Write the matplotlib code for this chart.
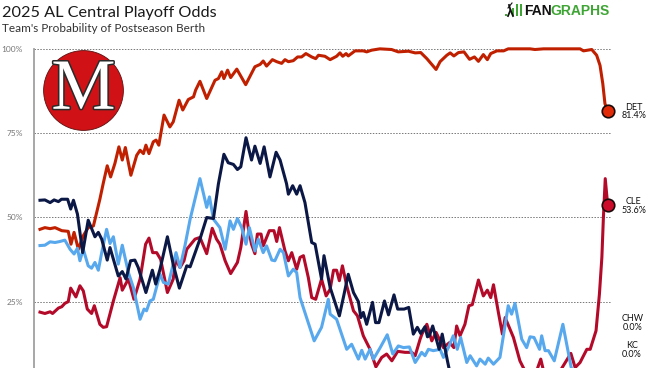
import matplotlib
matplotlib.use("Agg")
import matplotlib.pyplot as plt
import matplotlib.patheffects as pe
from matplotlib.lines import Line2D
from matplotlib.patches import Circle, Rectangle

plt.rcParams['font.family'] = ['Lato', 'DejaVu Sans']

#values, day = days since opening day
det_days = [0,1.6,3.3,4.9,7.1,9.2,10.1,11.1,12.5,14.1,15.7,17.4,19.5,20.6,21.9,23,24.4,25.7,26.8,27.8,29.6,31.5,32.6,33.7,34.5,35.5,36.9,37.8,38.7,40.4,42.3,43.4,45.3,46.5,48.3,50,50.7,52.1,54.3,57,58.1,59.2,59.9,61.1,62.1,64.1,67,70,71.7,72.7,73.8,75.7,77.1,78.7,79.8,80.9,82.5,83.9,85.2,86.6,88.5,89.8,90.7,92.8,94.5,96.6,97.7,98.6,99.7,100.4,102.6,105.3,106.4,108,110.7,114.5,116.7,120,122.2,124,126,129,130.3,132.5,133.6,134.8,136.3,138.1,139.9,141.5,142.8,144.4,145.7,146.8,148.8,151,152.5,159.6,161.2,164,175.9,177,179.7,181.3,182.4,183.3,184,184.9]
det_odds = [46.5,47,46.7,47,46.1,45.9,42.1,45.6,40.6,44.6,47,47.5,55.4,60.1,65.3,62,66,70.9,67,70.7,62.5,68.4,69.9,68.9,71.4,68.9,72.4,72.9,71.4,80.3,76.8,78.3,84.7,81.8,84.9,85.7,87.7,90.3,85.2,90.6,91.1,93.1,91.1,93.6,91.4,93.9,89.3,94.6,95.3,96.3,94.8,96.7,96.1,95.6,96.7,96.1,96.4,97.5,97.5,98.5,97.5,97,98,97.7,96.7,97.7,98.7,97.7,98.5,97.8,99.3,99.3,99,99.5,99.9,99.7,99,99.2,98.7,98.8,97,93.8,96.1,98,98.7,97.8,98.8,99,96.8,97.5,96.2,98.2,96.7,98.5,99.3,99.3,99.9,99.9,99.7,99.9,99.9,99.3,99.7,98,95,89.6,83.7,81.4]

cle_days = [0,1.6,3.3,4.1,6,7.1,8.1,9.2,10,11.7,13,14.1,15.4,16.8,17.7,19.5,20.6,21.7,23.9,26.1,26.8,28.8,30.6,32.6,34.4,35.5,36.7,38,39.3,41.5,43.4,44.2,45.6,46.9,47.8,50.5,52.1,54.3,56.1,57.5,58.6,60.3,62.1,64.3,65.4,67.1,67.9,68.9,70,70.8,72,72.7,74.7,76.2,77.1,78,79.8,80.9,82,83.6,84.7,85.8,87.4,88.5,89.8,91.7,93.2,94.5,95.6,96.6,97.5,98.5,99.9,102.1,103.4,105.3,107.5,109.4,111.3,112.9,114.6,116.5,118.9,121.1,122.2,123.8,124.4,126,127.6,129,131.4,133.4,134.8,135.7,136.8,138.4,139.7,140.8,142.8,144.4,145.7,146.8,147.7,149.3,150.6,151.5,154.2,156.3,158.5,161.2,163.1,164.5,167.2,169.4,172.9,174.3,175.9,178.1,179.2,181.1,182.2,183,183.5,184.1,184.9]
cle_odds = [22,21.6,22.1,21.6,23.2,23.6,24.6,25.1,29.1,26.5,29.8,28.3,22.9,21.6,23.9,18.4,17.5,17.7,25.3,32.2,28.5,31.8,25.8,31.8,42.1,43.9,39.6,39.6,37.6,27.8,31.8,37.7,35.2,37.2,40.6,43.6,44.1,39.3,46.8,43.6,42.1,37.2,33.4,36.7,41.1,51.8,46.5,42.1,39.3,45.1,45.1,41.6,46.1,46.1,42.9,47,40.1,37.2,39.6,34.7,38.2,38.7,32.2,26.3,25.8,31.8,26.8,28.8,34.4,34.4,31.3,35.7,29.8,22.4,20.9,15,11,5.8,8.6,9.6,7.6,10.4,10.1,10.1,9.1,14,15.5,18.4,13.5,16,11.5,13,11.5,17.9,15,18.4,23.9,24.2,31.5,26.8,28.5,26.3,30.1,21.9,15.5,20.4,14.5,7.6,3.6,3.2,8.1,2.7,1.7,4.6,9.8,5.6,7.1,11,11,16.5,27.3,38.2,50,61.5,53.6]

blue_days = [0,1.6,3.3,4.9,6.5,8.1,9.8,11.1,12.2,13,14.1,15.7,16.8,17.9,19,20.1,21.7,22.8,23.9,25.5,26.8,28.8,30.4,32.6,33.9,34.7,35.8,36.9,39.1,40.2,41.8,44.3,45.6,47.2,48.9,52.1,54.3,55.2,56.5,58.6,60.3,61.9,63,64.3,65.7,67.1,68.2,70,71.1,72.7,73.8,75.5,76.5,78.2,79.3,80.9,82.5,83.6,84.7,89.3,91.7,93.9,94.5,96.6,99.9,101.5,103.7,104.8,105.9,107.5,108.6,110.8,113.1,114.9,116.7,118.4,120.3,122.2,124.3,125.4,126.5,128.1,130.3,131.4,133,134.6,135.9,137,139,140.1,142.2,143.3,145,146,147.7,149.8,152.5,153.6,154.7,156.9,158.5,159.6,160.9,162.7,163.4,164.5,165.6,167.5,170.3,172.9,174.3,178,184.9]
blue_odds = [41.7,41.8,42.8,42.6,42.9,43.3,40.6,39.2,40.9,37.2,40.6,35.7,35,36.7,34.4,39.6,46.5,42.3,44.3,36.2,41.8,33.7,29.3,19.9,22.9,22.4,25.3,25.8,33.2,30.8,30.3,39.6,35.2,41.6,49.5,61.5,53,56.1,49.5,47,40.6,49,46.5,49.7,47,42.1,47,40.1,43.6,39.6,41.6,37.4,37.2,40.6,39.6,32.7,34.7,33.7,26.3,13.5,17.5,25.8,21.4,19.9,11,12.5,8.1,10.7,8.1,11,8.1,11.5,15.3,9.6,12,11.5,11.7,7.1,10.1,9.1,11,10.6,11,8.6,11.5,15,11,14.5,7.1,9.1,6.1,8.1,6.6,8.4,6.6,8.6,23.9,21.4,24.6,14,11.5,14.7,14.5,11,15,10.6,10.6,7.6,18.4,6.1,0.7,0,0]

navy_days = [0,1.6,3.3,4.6,6,7,9,10,10.9,12.2,13.9,15.7,17.9,19,20.1,21.9,22.8,25.5,26.8,28,29.5,30.9,32,34.5,36.6,37.7,39.1,41.5,43.4,45.4,47.8,48.9,52.1,54.3,56.5,58.1,59.9,61.3,63,64.3,65.4,67.1,68.9,70,71.7,73,74.9,76.9,78.2,80.3,80.9,82.3,83.6,84.7,86.3,88.5,89.6,91.7,92.5,94.5,97.5,98.8,100.4,102.1,103.7,104.5,105.3,106.4,108.3,109.3,110.4,112.2,113.5,115.3,116.5,118.6,120.1,121.6,122.9,124,125.4,126.2,126.8,127.9,130,131,132.7,133.4,136,184.9]
navy_odds = [55.1,55.2,54.4,55.2,54.7,55.4,55.4,52.5,55.1,51,39.6,49.2,44.3,45.6,43.6,37.4,41.1,32.7,34,31.8,37.2,37.4,35.2,27.8,34.4,30.3,34.7,44.3,36.1,29.1,35.7,35.4,43.6,50,49.7,59.9,68.7,66.2,65.7,64.2,65,73.6,67,71.1,66,70.9,62,69.3,67,60,56.9,59.4,56.9,59.4,54.4,42.6,42.1,31.8,38.7,29.3,20.9,26.3,33.2,27.8,25.1,20.4,21.9,18.4,24.9,18.9,18.9,25.3,21.2,27.1,22.9,22.9,23.4,15.5,17.5,15.7,17.7,14.7,15,17.9,11,15.5,7.6,4.6,1,0]

y_ticks = [25, 50, 75, 100]
y_labels = ["25%", "50%", "75%", "100%"]

DET_COLOR = "#c02000"
CLE_COLOR = "#b30a2a"
BLUE_COLOR = "#58a8ee"
NAVY_COLOR = "#0b1846"

W, H = 656, 368

def fx(px):
    return px / W

def fy(py):
    return 1 - py / H

fig = plt.figure(figsize=(W / 100, H / 100), dpi=100)
ax = fig.add_axes([fx(34), fy(368), (612 - 34) / W, (368 - 48.5) / H])
ax.set_xlim(-1.95, 186.3)
ax.set_ylim(5.47, 100)

for spine in ["top", "right", "bottom"]:
    ax.spines[spine].set_visible(False)
ax.spines["left"].set_color("#a0a0a0")
ax.spines["left"].set_linewidth(1.3)

ax.set_xticks([])
ax.set_yticks(y_ticks)
ax.set_yticklabels(y_labels, fontsize=6, color="#777777")
ax.tick_params(axis="y", length=0, pad=8)
ax.grid(axis="y", color="#777777", linestyle=(0, (1.5, 1.5)), linewidth=0.7)
ax.set_axisbelow(True)

ax.plot(det_days, det_odds, color=DET_COLOR, linewidth=2.2, clip_on=False)
ax.plot(cle_days, cle_odds, color=CLE_COLOR, linewidth=2.2, clip_on=False)
ax.plot(blue_days, blue_odds, color=BLUE_COLOR, linewidth=2.2, clip_on=False)
ax.plot(navy_days, navy_odds, color=NAVY_COLOR, linewidth=2.2, clip_on=False)

#end points
ax.plot(det_days[-1], det_odds[-1], "o", markersize=9, markerfacecolor="#e02a08", markeredgecolor="#1a0a0a", markeredgewidth=1.2, clip_on=False, zorder=6)
ax.plot(cle_days[-1], cle_odds[-1], "o", markersize=9, markerfacecolor="#cc0a2a", markeredgecolor="#1a0a0a", markeredgewidth=1.2, clip_on=False, zorder=6)

#titles
fig.text(fx(2.5), fy(17), "2025 AL Central Playoff Odds", fontsize=11.7, color="#1a1a1a", va="baseline")
fig.text(fx(2.5), fy(31.7), "Team's Probability of Postseason Berth", fontsize=8.5, color="#333333", va="baseline")

#team labels
team_labels = [("DET", "81.4%", 634, 111.5), ("CLE", "53.6%", 634, 206),
               ("CHW", "0.0%", 633, 323), ("KC", "0.0%", 632, 350)]
for name, pct, px, py in team_labels:
    fig.text(fx(px), fy(py), name + "\n" + pct, fontsize=6.5, color="#111111",
             ha="center", va="center", linespacing=1.0)

#round team logo
logo_ax = fig.add_axes([fx(43), fy(131), 81 / W, 81 / H])
logo_ax.set_xlim(-1, 1)
logo_ax.set_ylim(-1, 1)
logo_ax.axis("off")
logo_ax.add_patch(Circle((0, 0), 0.985, facecolor="#d01216", edgecolor="#5a1010", linewidth=0.6))
logo_ax.text(0, -0.02, "M", fontsize=52, family="Liberation Serif", color="white",
             ha="center", va="center",
             path_effects=[pe.withStroke(linewidth=2.2, foreground="#2a2a2a")])

#fangraphs logo
GREEN = "#3fa535"
fig.text(fx(524), fy(15.3), "FAN", fontsize=10, family="Liberation Sans", weight="bold", color="#111111")
fig.text(fx(550.5), fy(15.3), "GRAPHS", fontsize=10, family="Liberation Sans", weight="bold", color=GREEN)
for px, top in [(505, 14), (512, 8), (516, 4), (520, 4)]:
    fig.add_artist(Rectangle((fx(px), fy(16)), 2 / W, (16 - top) / H, transform=fig.transFigure, color=GREEN, linewidth=0))
fig.add_artist(Line2D([fx(509), fx(510.5), fx(508)], [fy(5), fy(10), fy(16)], transform=fig.transFigure, color="#111111", linewidth=1.3))
fig.add_artist(Line2D([fx(510.5), fx(513)], [fy(10), fy(16)], transform=fig.transFigure, color="#111111", linewidth=1.3))
fig.add_artist(Line2D([fx(508), fx(512)], [fy(8), fy(3)], transform=fig.transFigure, color="#111111", linewidth=0.8))

plt.savefig("out.png", dpi=100)
